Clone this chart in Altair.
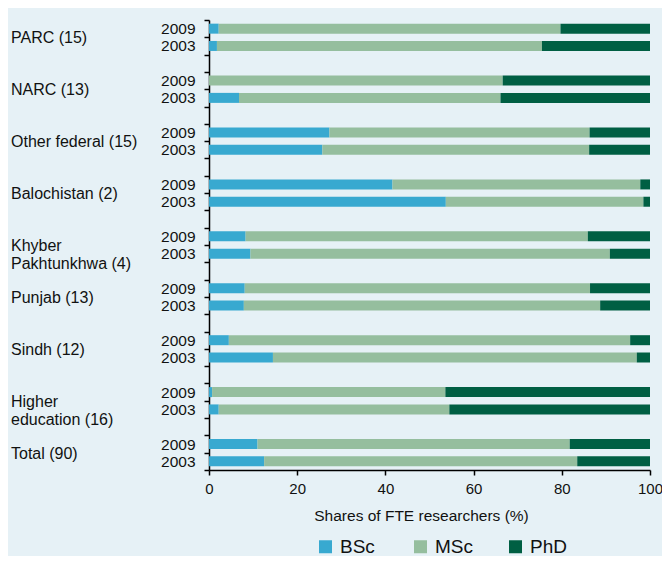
import altair as alt
import pandas as pd

groups = ["PARC (15)", "NARC (13)", "Other federal (15)", "Balochistan (2)",
          "Khyber Pakhtunkhwa (4)", "Punjab (13)", "Sindh (12)",
          "Higher education (16)", "Total (90)"]
group_labels = ["PARC (15)", "NARC (13)", "Other federal (15)", "Balochistan (2)",
                "Khyber\nPakhtunkhwa (4)", "Punjab (13)", "Sindh (12)",
                "Higher\neducation (16)", "Total (90)"]
years = ["2009", "2003"]
levels = ["BSc", "MSc", "PhD"]
colors = ["#38a9d0", "#95be9e", "#005f43"]

bsc_2009 = [2.2, 0.0, 27.3, 41.6, 8.3, 8.1, 4.5, 0.7, 11.0]
msc_2009 = [77.5, 66.6, 59.0, 56.2, 77.6, 78.3, 91.0, 52.9, 70.8]
phd_2009 = [20.3, 33.4, 13.7, 2.2, 14.1, 13.6, 4.5, 46.4, 18.2]
bsc_2003 = [1.8, 6.8, 25.7, 53.7, 9.4, 7.9, 14.5, 2.2, 12.5]
msc_2003 = [73.7, 59.3, 60.5, 44.8, 81.5, 80.8, 82.5, 52.3, 71.0]
phd_2003 = [24.5, 33.9, 13.8, 1.5, 9.1, 11.3, 3.0, 45.5, 16.5]

series = {
    "2009": [bsc_2009, msc_2009, phd_2009],
    "2003": [bsc_2003, msc_2003, phd_2003],
}

rows = []
for i, g in enumerate(groups):
    for yr in years:
        for k, lev in enumerate(levels):
            rows.append({"row": f"{g}|{yr}", "level": lev, "order": k,
                         "value": series[yr][k][i]})
df = pd.DataFrame(rows)

domain = []
for i, g in enumerate(groups):
    domain += [f"{g}|2009", f"{g}|2003"]
    if i < len(groups) - 1:
        domain.append(f"{g}|")

lab_df = pd.DataFrame({"row": [f"{g}|2009" for g in groups], "label": group_labels})

FONT = "Liberation Sans"
yscale = alt.Scale(domain=domain, paddingInner=0, paddingOuter=0)

bars = alt.Chart(df).mark_bar(size=10).encode(
    x=alt.X("value:Q", stack="zero",
            scale=alt.Scale(domain=[0, 100], nice=False),
            axis=alt.Axis(title="Shares of FTE researchers (%)", values=[0, 20, 40, 60, 80, 100],
                          grid=False, tickSize=5, labelPadding=6, titlePadding=12,
                          labelFontSize=15, titleFontSize=15.5, titleFontWeight="normal",
                          titleX=212, labelFlush=False)),
    y=alt.Y("row:N", scale=yscale,
            axis=alt.Axis(title=None, labelExpr="split(datum.value,'|')[1]",
                          tickBand="extent", tickSize=5, labelPadding=9,
                          labelFontSize=15.5, grid=False)),
    color=alt.Color("level:N", scale=alt.Scale(domain=levels, range=colors),
                    legend=alt.Legend(title=None, orient="none", legendX=107, legendY=517,
                                      direction="horizontal", symbolType="square",
                                      symbolSize=169, symbolStrokeWidth=0,
                                      labelFontSize=19, labelOffset=5, columnPadding=33,
                                      gridAlign="all", padding=0)),
    order=alt.Order("order:Q"),
)

labels = alt.Chart(lab_df).mark_text(align="left", baseline="middle", dy=9.5,
                                     fontSize=16, lineBreak="\n", font=FONT,
                                     color="#111111", lineHeight=18).encode(
    y=alt.Y("row:N", scale=yscale),
    x=alt.value(-198),
    text="label:N",
)

chart = alt.layer(bars, labels).properties(
    width=441, height=450,
    background="#e6f1f6",
    autosize=alt.AutoSizeParams(type="none"),
    padding={"left": 201, "top": 12, "right": 12, "bottom": 86},
).configure_view(stroke=None).configure_axis(
    domainColor="#000000", domainWidth=1.5, tickColor="#000000", tickWidth=1.5,
    labelColor="#111111", titleColor="#111111", labelFont=FONT, titleFont=FONT,
).configure_legend(labelFont=FONT, labelColor="#111111")

chart.save("out.html", embed_options={"renderer": "svg", "actions": False})
